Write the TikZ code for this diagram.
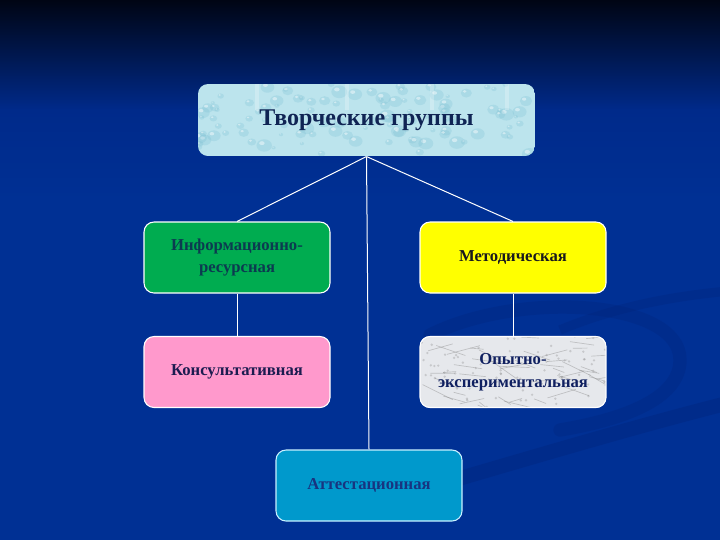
\documentclass[tikz,border=0pt]{standalone}
\usepackage{fontspec}
\setmainfont{Liberation Serif}
\definecolor{bgtop}{RGB}{0,5,20}
\definecolor{bgmid}{RGB}{0,42,138}
\definecolor{bgmain}{RGB}{0,48,148}
\definecolor{wave}{RGB}{0,34,118}
\definecolor{topfill}{RGB}{188,228,237}
\definecolor{drop}{RGB}{120,190,210}
\definecolor{toptext}{RGB}{16,36,84}
\definecolor{greenfill}{RGB}{0,172,80}
\definecolor{greentext}{RGB}{12,58,80}
\definecolor{yellowfill}{RGB}{255,255,0}
\definecolor{yellowtext}{RGB}{25,25,30}
\definecolor{pinkfill}{RGB}{255,153,204}
\definecolor{pinktext}{RGB}{28,28,80}
\definecolor{marble}{RGB}{230,232,236}
\definecolor{marbletext}{RGB}{16,32,96}
\definecolor{cyanfill}{RGB}{0,153,204}
\definecolor{cyanedge}{RGB}{200,240,255}
\definecolor{cyantext}{RGB}{24,52,128}
\begin{document}
\begin{tikzpicture}[x=0.75pt,y=-0.75pt,
  box/.style={rounded corners=7.5pt, draw=white, line width=0.8pt, align=center,
    font=\bfseries\fontsize{12.5}{17}\selectfont, inner sep=2pt,
    minimum width=139.5pt, minimum height=53.25pt},
  link/.style={draw=white, line width=0.75pt}]
\useasboundingbox (0,0) rectangle (720,540);
% background
\fill[bgmain] (0,0) rectangle (720,540);
\fill[top color=bgtop, bottom color=bgmid] (0,0) rectangle (720,110);
\fill[top color=bgmid, bottom color=bgmain] (0,109) rectangle (720,200);
% faint waves
\draw[line width=10pt, wave, opacity=0.25, line cap=round] (430,335) .. controls (520,290) and (680,300) .. (680,360) .. controls (680,400) and (620,420) .. (560,430);
\draw[line width=11pt, wave, opacity=0.3] (420,490) .. controls (540,455) and (640,425) .. (740,400);
\draw[line width=7pt, wave, opacity=0.25] (560,330) .. controls (620,305) and (680,295) .. (740,290);
% textured fills
\begin{scope}
  \clip[rounded corners=7.5pt] (198,84) rectangle (535,156);
  \fill[topfill] (198,84) rectangle (535,156);
  \pgfmathsetseed{11}
  \foreach \i in {1,...,110}{
    \pgfmathsetmacro\px{198+337*rnd}
    \pgfmathsetmacro\py{84+72*rnd}
    \pgfmathsetmacro\pr{2+6*rnd}
    \fill[drop, opacity=0.25] (\px,\py) ellipse[x radius=\pr, y radius=0.8*\pr];
    \fill[white, opacity=0.45] (\px-0.3*\pr,\py-0.3*\pr) ellipse[x radius=0.35*\pr, y radius=0.25*\pr];
  }
  \foreach \xx in {255,345,430,505}{
    \fill[white, opacity=0.25] (\xx,84) rectangle (\xx+4,110);
  }
\end{scope}
\begin{scope}
  \clip[rounded corners=7.5pt] (420,336) rectangle (606,408);
  \fill[marble] (420,336) rectangle (606,408);
  \pgfmathsetseed{5}
  \foreach \i in {1,...,50}{
    \pgfmathsetmacro\px{420+186*rnd}
    \pgfmathsetmacro\py{336+72*rnd}
    \pgfmathsetmacro\ang{-20+60*rnd}
    \pgfmathsetmacro\len{12+22*rnd}
    \draw[gray, opacity=0.4, line width=0.5pt] (\px,\py) -- ++(\ang:\len);
  }
  \pgfmathsetseed{9}
  \foreach \i in {1,...,80}{
    \pgfmathsetmacro\px{420+186*rnd}
    \pgfmathsetmacro\py{336+72*rnd}
    \fill[gray, opacity=0.3] (\px,\py) circle (1.3);
  }
\end{scope}
% top box
\node[box, draw=none, minimum width=252.75pt, minimum height=54pt,
  text=toptext, font=\bfseries\fontsize{18}{22}\selectfont] (top) at (366.5,120) {Творческие группы};
% second level
\node[box, fill=greenfill, text=greentext] (info) at (237,257.5) {Информационно-\\ресурсная};
\node[box, fill=yellowfill, text=yellowtext] (metod) at (513,257.5) {Методическая};
\node[box, fill=pinkfill, text=pinktext] (kons) at (237,372) {Консультативная};
\node[box, text=marbletext] (opyt) at (513,372) {Опытно-\\экспериментальная};
\node[box, fill=cyanfill, draw=cyanedge, text=cyantext] (att) at (369,485.5) {Аттестационная};
% connectors
\draw[link] (top.south) -- (info.north);
\draw[link] (top.south) -- (metod.north);
\draw[link] (top.south) -- (att.north);
\draw[link] (info.south) -- (kons.north);
\draw[link] (metod.south) -- (opyt.north);
\end{tikzpicture}
\end{document}
